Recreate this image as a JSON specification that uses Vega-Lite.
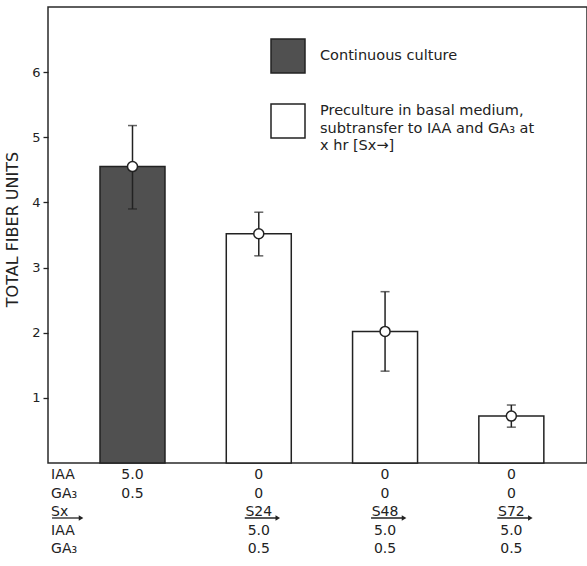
{
  "$schema": "https://vega.github.io/schema/vega-lite/v6.json",
  "width": 539,
  "height": 456,
  "autosize": {"type": "none"},
  "padding": {"left": 48, "top": 7, "right": 0, "bottom": 103},
  "background": "#ffffff",
  "config": {
    "view": {"stroke": "#2a2a2a", "strokeWidth": 1.5},
    "font": "DejaVu Sans",
    "text": {"font": "DejaVu Sans", "color": "#222222"}
  },
  "datasets": {
    "bars": [
      {"pos": 1, "treatment": "Continuous culture", "value": 4.55, "lo": 3.9, "hi": 5.18},
      {"pos": 2, "treatment": "Preculture in basal medium,|subtransfer to IAA and GA₃ at|x hr [Sx→]", "value": 3.52, "lo": 3.18, "hi": 3.85},
      {"pos": 3, "treatment": "Preculture in basal medium,|subtransfer to IAA and GA₃ at|x hr [Sx→]", "value": 2.02, "lo": 1.41, "hi": 2.63},
      {"pos": 4, "treatment": "Preculture in basal medium,|subtransfer to IAA and GA₃ at|x hr [Sx→]", "value": 0.72, "lo": 0.55, "hi": 0.89}
    ],
    "labels": [
      {"pos": 0.355, "row": 1, "text": "IAA"},
      {"pos": 0.355, "row": 2, "text": "GA₃"},
      {"pos": 0.355, "row": 3, "text": "Sx"},
      {"pos": 0.355, "row": 4, "text": "IAA"},
      {"pos": 0.355, "row": 5, "text": "GA₃"}
    ],
    "cells": [
      {"pos": 1, "row": 1, "text": "5.0"},
      {"pos": 1, "row": 2, "text": "0.5"},
      {"pos": 2, "row": 1, "text": "0"},
      {"pos": 2, "row": 2, "text": "0"},
      {"pos": 2, "row": 3, "text": "S24"},
      {"pos": 2, "row": 4, "text": "5.0"},
      {"pos": 2, "row": 5, "text": "0.5"},
      {"pos": 3, "row": 1, "text": "0"},
      {"pos": 3, "row": 2, "text": "0"},
      {"pos": 3, "row": 3, "text": "S48"},
      {"pos": 3, "row": 4, "text": "5.0"},
      {"pos": 3, "row": 5, "text": "0.5"},
      {"pos": 4, "row": 1, "text": "0"},
      {"pos": 4, "row": 2, "text": "0"},
      {"pos": 4, "row": 3, "text": "S72"},
      {"pos": 4, "row": 4, "text": "5.0"},
      {"pos": 4, "row": 5, "text": "0.5"}
    ]
  },
  "layer": [
    {
      "data": {"name": "bars"},
      "layer": [
        {
          "mark": {"type": "bar", "orient": "vertical", "size": 65, "stroke": "#222222", "strokeWidth": 1.5},
          "encoding": {
            "x": {"field": "pos", "type": "quantitative", "scale": {"domain": [0.3705, 4.5595], "nice": false, "zero": false}, "axis": null},
            "y": {"field": "value", "type": "quantitative", "stack": null, "scale": {"domain": [0, 7], "nice": false},
              "axis": {"values": [1, 2, 3, 4, 5, 6], "format": "d", "grid": false, "domain": false, "tickSize": 5, "tickWidth": 1.3, "tickColor": "#222222",
                "labelFontSize": 13, "labelPadding": 3, "labelColor": "#222222", "labelFont": "DejaVu Sans",
                "title": "TOTAL FIBER UNITS", "titleFontSize": 16, "titleFontWeight": "normal", "titleColor": "#222222", "titleFont": "DejaVu Sans", "titlePadding": 11, "titleY": 222}},
            "fill": {"field": "treatment", "type": "nominal",
              "scale": {"domain": ["Continuous culture", "Preculture in basal medium,|subtransfer to IAA and GA₃ at|x hr [Sx→]"], "range": ["#505050", "#ffffff"]},
              "legend": {"orient": "none", "legendX": 222, "legendY": 31, "title": null, "padding": 0,
                "symbolType": "square", "symbolSize": 1156, "symbolStrokeColor": "#222222", "symbolStrokeWidth": 1.5,
                "labelFontSize": 14.5, "labelFont": "DejaVu Sans", "labelColor": "#222222", "labelOffset": 14, "labelLimit": 400,
                "rowPadding": 25, "labelExpr": "split(datum.label, '|')",
                "encode": {"symbols": {"update": {"stroke": {"value": "#222222"}, "strokeWidth": {"value": 1.5}}},
                           "labels": {"update": {"lineHeight": {"value": 17.5}, "dy": {"signal": "indexof(datum.label, '|') >= 0 ? -10 : 0"}}}}}}
          }
        },
        {
          "mark": {"type": "rule", "color": "#222222", "strokeWidth": 1.5},
          "encoding": {
            "x": {"field": "pos", "type": "quantitative"},
            "y": {"field": "lo", "type": "quantitative"},
            "y2": {"field": "hi"}
          }
        },
        {
          "mark": {"type": "tick", "orient": "horizontal", "size": 9, "thickness": 1.5, "color": "#222222"},
          "encoding": {
            "x": {"field": "pos", "type": "quantitative"},
            "y": {"field": "lo", "type": "quantitative"}
          }
        },
        {
          "mark": {"type": "tick", "orient": "horizontal", "size": 9, "thickness": 1.5, "color": "#222222"},
          "encoding": {
            "x": {"field": "pos", "type": "quantitative"},
            "y": {"field": "hi", "type": "quantitative"}
          }
        },
        {
          "mark": {"type": "point", "shape": "circle", "filled": true, "fill": "#ffffff", "stroke": "#222222", "strokeWidth": 1.5, "size": 100, "opacity": 1},
          "encoding": {
            "x": {"field": "pos", "type": "quantitative"},
            "y": {"field": "value", "type": "quantitative"}
          }
        }
      ]
    },
    {
      "layer": [
        {
          "data": {"name": "labels"},
          "mark": {"type": "text", "align": "left", "baseline": "middle", "fontSize": 14, "color": "#222222"},
          "encoding": {
            "x": {"field": "pos", "type": "quantitative"},
            "y": {"field": "row", "type": "ordinal", "scale": {"type": "point", "range": [468, 542], "padding": 0}, "axis": null},
            "text": {"field": "text"}
          }
        },
        {
          "data": {"name": "cells"},
          "mark": {"type": "text", "align": "center", "baseline": "middle", "fontSize": 14, "color": "#222222"},
          "encoding": {
            "x": {"field": "pos", "type": "quantitative"},
            "y": {"field": "row", "type": "ordinal", "scale": {"type": "point", "range": [468, 542], "padding": 0}, "axis": null},
            "text": {"field": "text"}
          }
        },
        {
          "data": {"name": "labels"},
          "transform": [{"filter": "datum.row == 3"}],
          "mark": {"type": "rule", "color": "#222222", "strokeWidth": 1.3, "xOffset": 1, "x2Offset": 30, "yOffset": 6},
          "encoding": {
            "x": {"field": "pos", "type": "quantitative"},
            "x2": {"field": "pos"},
            "y": {"field": "row", "type": "ordinal", "scale": {"type": "point", "range": [468, 542], "padding": 0}, "axis": null}
          }
        },
        {
          "data": {"name": "labels"},
          "transform": [{"filter": "datum.row == 3"}],
          "mark": {"type": "point", "shape": "triangle-right", "filled": true, "color": "#222222", "opacity": 1, "size": 28, "xOffset": 30, "yOffset": 6},
          "encoding": {
            "x": {"field": "pos", "type": "quantitative"},
            "y": {"field": "row", "type": "ordinal", "scale": {"type": "point", "range": [468, 542], "padding": 0}, "axis": null}
          }
        },
        {
          "data": {"name": "cells"},
          "transform": [{"filter": "datum.row == 3"}],
          "mark": {"type": "rule", "color": "#222222", "strokeWidth": 1.3, "xOffset": -14, "x2Offset": 19, "yOffset": 6},
          "encoding": {
            "x": {"field": "pos", "type": "quantitative"},
            "x2": {"field": "pos"},
            "y": {"field": "row", "type": "ordinal", "scale": {"type": "point", "range": [468, 542], "padding": 0}, "axis": null}
          }
        },
        {
          "data": {"name": "cells"},
          "transform": [{"filter": "datum.row == 3"}],
          "mark": {"type": "point", "shape": "triangle-right", "filled": true, "color": "#222222", "opacity": 1, "size": 28, "xOffset": 19, "yOffset": 6},
          "encoding": {
            "x": {"field": "pos", "type": "quantitative"},
            "y": {"field": "row", "type": "ordinal", "scale": {"type": "point", "range": [468, 542], "padding": 0}, "axis": null}
          }
        }
      ]
    }
  ],
  "resolve": {"scale": {"y": "independent"}}
}
